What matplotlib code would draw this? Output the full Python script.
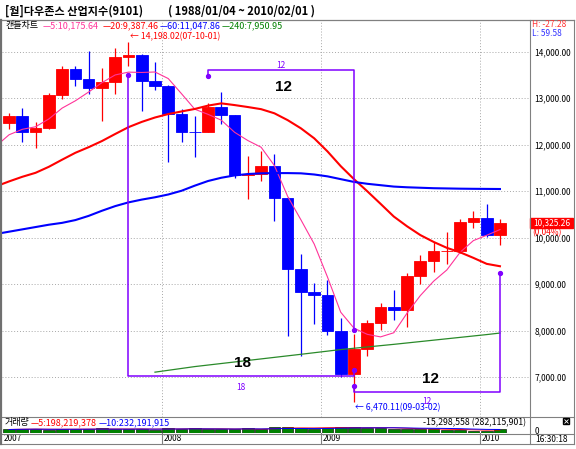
import matplotlib.pyplot as plt
import matplotlib.transforms as mtransforms
from matplotlib.patches import Rectangle
import numpy as np
import pandas as pd

plt.rcParams['font.family'] = ['Noto Sans CJK KR', 'DejaVu Sans']

# monthly candles, Jan 2007 .. Feb 2010
months = ['2007-01', '2007-02', '2007-03', '2007-04', '2007-05', '2007-06',
          '2007-07', '2007-08', '2007-09', '2007-10', '2007-11', '2007-12',
          '2008-01', '2008-02', '2008-03', '2008-04', '2008-05', '2008-06',
          '2008-07', '2008-08', '2008-09', '2008-10', '2008-11', '2008-12',
          '2009-01', '2009-02', '2009-03', '2009-04', '2009-05', '2009-06',
          '2009-07', '2009-08', '2009-09', '2009-10', '2009-11', '2009-12',
          '2010-01', '2010-02']
opens = [12459.54, 12621.69, 12268.63, 12354.35, 13062.91, 13627.64,
         13408.62, 13211.99, 13357.74, 13895.63, 13930.01, 13371.72,
         13264.82, 12650.36, 12266.39, 12262.89, 12820.13, 12638.32,
         11350.01, 11378.02, 11543.55, 10850.66, 9325.01, 8829.04,
         8776.39, 8000.86, 7062.93, 7608.92, 8168.12, 8500.33,
         8447.00, 9171.61, 9496.28, 9712.28, 9712.73, 10344.84,
         10428.05, 10067.33]
highs = [12680, 12786, 12480, 13121, 13692, 13692,
         14021, 13657, 14087, 14198.02, 13943, 13779,
         13279, 12767, 12622, 12891, 13136, 12638,
         11750, 11867, 11790, 10882, 9653, 9026,
         9088, 8280, 7924, 8221, 8588, 8877,
         9233, 9630, 9917, 10119, 10406, 10580,
         10729, 10400]
lows = [12330, 12050, 11939, 12330, 12977, 13266,
        13100, 12518, 13084, 13700, 12724, 13180,
        11634, 12069, 11731, 12266, 12442, 11287,
        10827, 11221, 10365, 7882, 7449, 8149,
        7909, 7010, 6470.11, 7467, 8021, 8221,
        8087, 9008, 9253, 9430, 9678, 10207,
        10025, 9835]
closes = [12621.69, 12268.63, 12354.35, 13062.91, 13627.64, 13408.62,
          13211.99, 13357.74, 13895.63, 13930.01, 13371.72, 13264.82,
          12650.36, 12266.39, 12262.89, 12820.13, 12638.32, 11350.01,
          11378.02, 11543.55, 10850.66, 9325.01, 8829.04, 8776.39,
          8000.86, 7062.93, 7608.92, 8168.12, 8500.33, 8447.00,
          9171.61, 9496.28, 9712.28, 9712.73, 10344.84, 10428.05,
          10067.33, 10325.26]
# closes May 2005 .. Dec 2006, needed for the 5 / 20 month averages
prior_closes = [10467.48, 10274.97, 10640.91, 10481.60, 10568.70, 10440.07,
                10805.87, 10717.50, 10864.86, 10993.41, 11109.32, 11367.14,
                11168.31, 11150.22, 11185.68, 11381.15, 11679.07, 12080.73,
                12221.93, 12463.15]
# 60 month average, Dec 2006 .. Feb 2010
ma60 = [10080, 10130, 10180, 10230, 10280, 10320, 10380, 10470, 10580, 10680,
        10760, 10820, 10870, 10930, 11010, 11120, 11220, 11290, 11340, 11370,
        11385, 11390, 11390, 11385, 11360, 11320, 11260, 11200, 11160, 11130,
        11100, 11085, 11075, 11065, 11060, 11055, 11052, 11050, 11047.86]
# 240 month average, starts Dec 2007
ma240 = [7110, 7150, 7190, 7230, 7263, 7296, 7329, 7362, 7395, 7428,
         7461, 7494, 7528, 7562, 7596, 7624, 7652, 7680, 7708, 7738,
         7768, 7798, 7828, 7858, 7888, 7918, 7950.95]
# volume (millions)
volumes = [230, 260, 270, 220, 240, 250, 280, 300, 230, 240, 280, 220,
           330, 270, 300, 240, 230, 270, 300, 230, 380, 420, 330, 280,
           320, 420, 380, 330, 300, 280, 260, 250, 241, 210, 180, 160,
           159, 282]
year_labels = ['2007', '2008', '2009', '2010']
price_ticks = [7000, 8000, 9000, 10000, 11000, 12000, 13000, 14000]

W, H = 576, 449
PURPLE = '#8000ff'
PINK = '#ff3399'
GREEN = '#2a8a2a'


def fx(px):
    return px / W


def fy(py):
    return 1 - py / H


fig = plt.figure(figsize=(W / 100, H / 100), dpi=100)

n = len(closes)
idx = np.arange(n)
o = np.array(opens)
c = np.array(closes)
hi = np.array(highs)
lo = np.array(lows)

x0, x1 = -0.53, 39.19
ax = fig.add_axes([fx(2), fy(417), fx(529) - fx(2), fy(21) - fy(417)])
ax.set_xlim(x0, x1)
ax.set_ylim(6146, 14660)
for s in ax.spines.values():
    s.set_visible(False)
ax.set_xticks([])
ax.yaxis.tick_right()
ax.set_yticks(price_ticks)
ax.set_yticklabels(['{:,.2f}'.format(v) for v in price_ticks], fontsize=6)
ax.tick_params(axis='y', length=0, pad=4)

for v in price_ticks:
    ax.axhline(v, color='#a8a8a8', lw=0.7, ls=(0, (1, 2)), zorder=0)
year_seps = [11.5, 23.5, 35.5]
for xs in year_seps:
    ax.axvline(xs, color='#a8a8a8', lw=0.7, ls=(0, (1, 2)), zorder=0)

# candles
cols = np.where(c >= o, '#ff0000', '#0000ff')
ax.vlines(idx, lo, hi, colors=cols, lw=0.9, zorder=2)
ax.bar(idx, np.abs(c - o), bottom=np.minimum(o, c), width=0.88,
       color=cols, edgecolor=cols, lw=0.6, zorder=3)

# moving averages
allc = pd.Series(prior_closes + closes)
ma5 = allc.rolling(5).mean().values[-(n + 1):]
ma20 = allc.rolling(20).mean().values[-(n + 1):]
xma = np.arange(-1, n)
ax.plot(xma, ma5, color=PINK, lw=0.8, zorder=4)
ax.plot(xma, ma20, color='#ff0000', lw=1.5, zorder=4)
ax.plot(xma, ma60, color='#0000ff', lw=1.5, zorder=4)
ax.plot(np.arange(11, n), ma240, color=GREEN, lw=0.9, zorder=4)

# period boxes
boxes = [
    ([9, 9, 26, 26], [13499, 7027, 7027, 7156]),
    ([15, 15, 26, 26], [13477, 13607, 13607, 8015]),
    ([26, 26, 37, 37], [6812, 6684, 6684, 9240]),
]
for bx, by in boxes:
    ax.plot(bx, by, color=PURPLE, lw=1.1, zorder=6, clip_on=False)
    ax.plot([bx[0], bx[-1]], [by[0], by[-1]], 'o', color=PURPLE, ms=2.8, zorder=7)

ax.text(20.5, 13714, '12', color=PURPLE, fontsize=6, ha='center', va='center', zorder=7)
ax.text(20.65, 13241, '12', color='black', fontsize=11, fontweight='bold',
        family='Liberation Sans', ha='center', va='center', zorder=7)
ax.text(17.5, 6791, '18', color=PURPLE, fontsize=6, ha='center', va='center', zorder=7)
ax.text(17.63, 7307, '18', color='black', fontsize=11, fontweight='bold',
        family='Liberation Sans', ha='center', va='center', zorder=7)
ax.text(31.5, 6469, '12', color=PURPLE, fontsize=6, ha='center', va='center', zorder=7)
ax.text(31.73, 6963, '12', color='black', fontsize=11, fontweight='bold',
        family='Liberation Sans', ha='center', va='center', zorder=7)

ax.text(9.12, 14316, '← 14,198.02(07-10-01)', color='#ff0000', fontsize=6.3,
        ha='left', va='center', zorder=7)
ax.text(26.07, 6339, '← 6,470.11(09-03-02)', color='#0000ff', fontsize=6.3,
        ha='left', va='center', zorder=7)

# last price box on the right axis
blend = mtransforms.blended_transform_factory(ax.transAxes, ax.transData)
last = closes[-1]
ax.add_patch(Rectangle((1.002, last - 107), 43 / 527, 214, transform=blend,
                       color='#ff0000', clip_on=False, zorder=8))
ax.text(1.002 + 21.5 / 527, last, '{:,.2f}'.format(last), transform=blend,
        color='white', fontsize=6, ha='center', va='center', zorder=9)
ax.annotate('(0.04%)', xy=(1.0, last), xycoords=blend, xytext=(3, -10),
            textcoords='offset pixels', color='#ff0000', fontsize=6,
            ha='left', va='center', zorder=9)

# volume panel
vax = fig.add_axes([fx(2), fy(433), fx(529) - fx(2), fy(417) - fy(433)])
vax.set_xlim(x0, x1)
vax.set_ylim(0, 1050)
vax.axis('off')
vol = pd.Series(volumes)
vax.bar(idx, volumes, width=0.88, color='#008000', edgecolor='#102010', lw=0.5)
vax.plot(idx, vol.rolling(5, min_periods=1).mean(), color='#ff0000', lw=0.7)
vax.plot(idx, vol.rolling(10, min_periods=1).mean(), color='#0000ff', lw=0.7)

# date row
dax = fig.add_axes([fx(2), fy(444), fx(529) - fx(2), fy(433) - fy(444)])
dax.set_xlim(x0, x1)
dax.set_ylim(0, 1)
dax.axis('off')
for xs in year_seps:
    dax.axvline(xs, color='#808080', lw=0.8)
for xs, lab in zip([x0] + year_seps, year_labels):
    dax.annotate(lab, xy=(xs, 0.5), xytext=(2, 0), textcoords='offset pixels',
                 fontsize=6, ha='left', va='center')

# frame, title and legend row in pixel coordinates
oax = fig.add_axes([0, 0, 1, 1], zorder=10)
oax.set_xlim(0, W)
oax.set_ylim(H, 0)
oax.axis('off')
frame = '#808080'
oax.plot([0, 574], [19.5, 19.5], color=frame, lw=0.9)
oax.plot([0, 574], [417, 417], color=frame, lw=0.8)
oax.plot([0, 574], [433.5, 433.5], color=frame, lw=0.8)
oax.plot([0, 574], [444, 444], color=frame, lw=0.8)
oax.plot([1, 1], [19.5, 444], color='#707070', lw=1.6)
oax.plot([529.5, 529.5], [19.5, 444], color=frame, lw=0.8)
oax.plot([573.5, 573.5], [19.5, 444], color=frame, lw=0.8)

oax.text(5, 11, '[월]다우존스 산업지수(9101)', fontsize=8, fontweight='bold',
         ha='left', va='center')
oax.text(168, 11, '( 1988/01/04 ~ 2010/02/01 )', fontsize=8, fontweight='bold',
         ha='left', va='center')

legend_items = [
    (6, '캔들차트', 'black'),
    (43, '—5:10,175.64', PINK),
    (103, '—20:9,387.46', '#ff0000'),
    (160, '—60:11,047.86', '#0000ff'),
    (222, '—240:7,950.95', '#008000'),
]
for lx, lt, lc in legend_items:
    oax.text(lx, 25.5, lt, color=lc, fontsize=6.5, ha='left', va='center')

oax.text(532, 24.5, 'H: -27.28', color='#ff3333', fontsize=6, ha='left', va='center')
oax.text(532, 33.5, 'L: 59.58', color='#3333ff', fontsize=6, ha='left', va='center')

oax.text(5, 422.5, '거래량', fontsize=6.5, ha='left', va='center')
oax.text(31, 422.5, '—5:198,219,378', color='#ff0000', fontsize=6.5, ha='left', va='center')
oax.text(99, 422.5, '—10:232,191,915', color='#0000ff', fontsize=6.5, ha='left', va='center')
oax.text(526, 422.5, '-15,298,558 (282,115,901)', fontsize=6.3, ha='right', va='center')
oax.text(535, 431, '0', fontsize=6, ha='left', va='center')
oax.plot([566], [421], 's', color='black', ms=4.2)
oax.plot([566], [421], 'x', color='white', ms=2.2, mew=0.6)
oax.text(535, 439, '16:30:18', fontsize=6, ha='left', va='center')

fig.savefig('out.png', dpi=100, facecolor='white')
